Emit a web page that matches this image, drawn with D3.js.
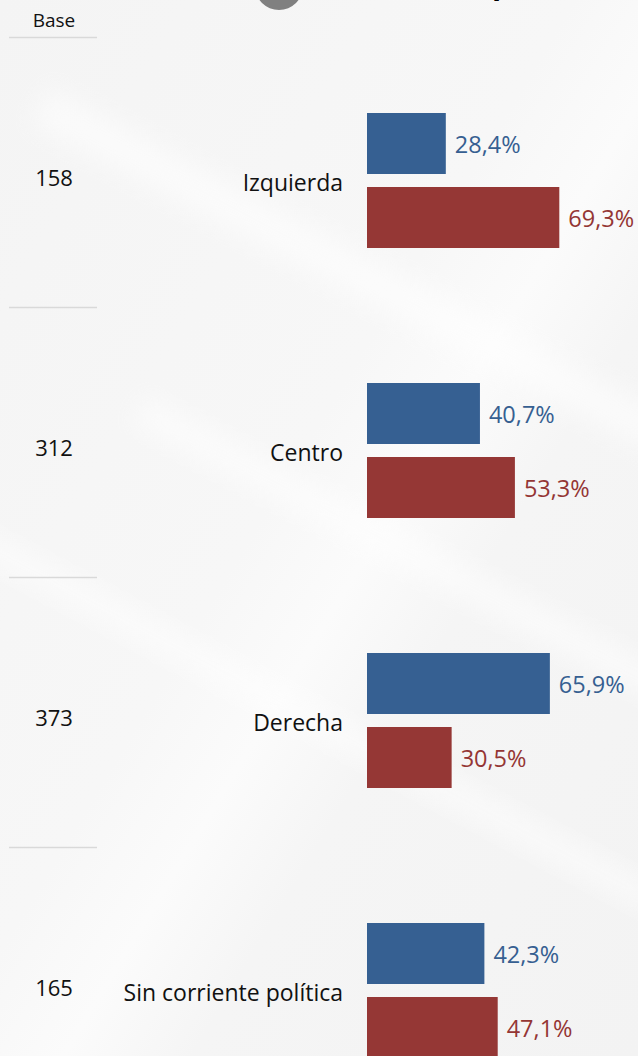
<!DOCTYPE html>
<html>
<head>
<meta charset="utf-8">
<script src="https://cdn.jsdelivr.net/npm/d3@7"></script>
<style>
  html, body { margin: 0; padding: 0; background: #f5f5f5; }
  svg { display: block; }
  text { font-family: "Open Sans", "Noto Sans", sans-serif; }
</style>
</head>
<body>
<svg id="chart" width="638" height="1056"></svg>
<script>
// ---- data ----
const categories = ["Izquierda", "Centro", "Derecha", "Sin corriente política"];
const bases = [158, 312, 373, 165];
const seriesNames = ["Serie A", "Serie B"];
const seriesA = [28.4, 40.7, 65.9, 42.3];
const seriesB = [69.3, 53.3, 30.5, 47.1];
const baseHeader = "Base";

const colors = { "Serie A": "#366092", "Serie B": "#953735" };
const labelColors = { "Serie A": "#365f91", "Serie B": "#943634" };

const W = 638, H = 1056;
const svg = d3.select("#chart");

// background with subtle diagonal streaks
const defs = svg.append("defs");
const g1 = defs.append("linearGradient").attr("id", "bg").attr("x1", "0").attr("y1", "0").attr("x2", "1").attr("y2", "1");
g1.append("stop").attr("offset", "0").attr("stop-color", "#f4f4f4");
g1.append("stop").attr("offset", "0.45").attr("stop-color", "#f7f7f7");
g1.append("stop").attr("offset", "0.55").attr("stop-color", "#fbfbfb");
g1.append("stop").attr("offset", "0.65").attr("stop-color", "#f5f5f5");
g1.append("stop").attr("offset", "1").attr("stop-color", "#f3f3f3");
svg.append("rect").attr("width", W).attr("height", H).attr("fill", "url(#bg)");
const blur = defs.append("filter").attr("id", "blur").attr("x", "-50%").attr("y", "-50%").attr("width", "200%").attr("height", "200%");
blur.append("feGaussianBlur").attr("stdDeviation", 12);
[[0, 250, 700, 40], [100, 560, 700, 30], [-100, 700, 800, 25]].forEach(s => {
  svg.append("rect").attr("x", s[0]).attr("y", s[1]).attr("width", s[2]).attr("height", s[3])
    .attr("fill", "#ffffff").attr("opacity", 0.55).attr("filter", "url(#blur)")
    .attr("transform", `rotate(28 ${s[0] + s[2] / 2} ${s[1] + s[3] / 2})`);
});

// title remnants (cropped at top)
svg.append("circle").attr("cx", 279).attr("cy", -14).attr("r", 24).attr("fill", "#808080");
svg.append("text").attr("x", 492).attr("y", -6).attr("font-size", 30).attr("font-weight", "bold")
  .attr("fill", "#000").text("p");

// scales
const y = d3.scaleBand().domain(categories).range([45.5, 45.5 + 270 * categories.length]);
const ySub = d3.scaleBand().domain(seriesNames).range([-67.5, 67.5]).paddingInner(13 / 74).paddingOuter(0);
const x = d3.scaleLinear().domain([0, 100]).range([367, 367 + 277.5]);

const center = c => y(c) + y.bandwidth() / 2;

// header
svg.append("text").attr("x", 54).attr("y", 20).attr("text-anchor", "middle").attr("dominant-baseline", "central")
  .attr("font-size", 19).attr("fill", "#111").text(baseHeader);

// separators
svg.selectAll("line.sep").data(categories).join("line").attr("class", "sep")
  .attr("x1", 9).attr("x2", 97)
  .attr("y1", c => center(c) - 143).attr("y2", c => center(c) - 143)
  .attr("stroke", "#d9d9d9").attr("stroke-width", 1.5);

// base values
svg.selectAll("text.base").data(categories).join("text").attr("class", "base")
  .attr("x", 54).attr("y", c => center(c) - 4)
  .attr("text-anchor", "middle").attr("dominant-baseline", "central")
  .attr("font-size", 22).attr("fill", "#111")
  .text((c, i) => bases[i]);

// category labels
svg.selectAll("text.cat").data(categories).join("text").attr("class", "cat")
  .attr("x", 343).attr("y", c => center(c) + 1.5)
  .attr("text-anchor", "end").attr("dominant-baseline", "central")
  .attr("font-size", 23).attr("fill", "#111")
  .text(c => c);

// bars
const rows = [];
categories.forEach((c, i) => {
  rows.push({ cat: c, s: "Serie A", v: seriesA[i] });
  rows.push({ cat: c, s: "Serie B", v: seriesB[i] });
});

svg.selectAll("rect.bar").data(rows).join("rect").attr("class", "bar")
  .attr("x", x(0))
  .attr("y", d => center(d.cat) + ySub(d.s))
  .attr("width", d => x(d.v) - x(0))
  .attr("height", ySub.bandwidth())
  .attr("fill", d => colors[d.s]);

svg.selectAll("text.val").data(rows).join("text").attr("class", "val")
  .attr("x", d => x(d.v) + 9)
  .attr("y", d => center(d.cat) + ySub(d.s) + ySub.bandwidth() / 2)
  .attr("dominant-baseline", "central")
  .attr("font-size", 23.5).attr("fill", d => labelColors[d.s])
  .text(d => d3.format(".1f")(d.v).replace(".", ",") + "%");
</script>
</body>
</html>
